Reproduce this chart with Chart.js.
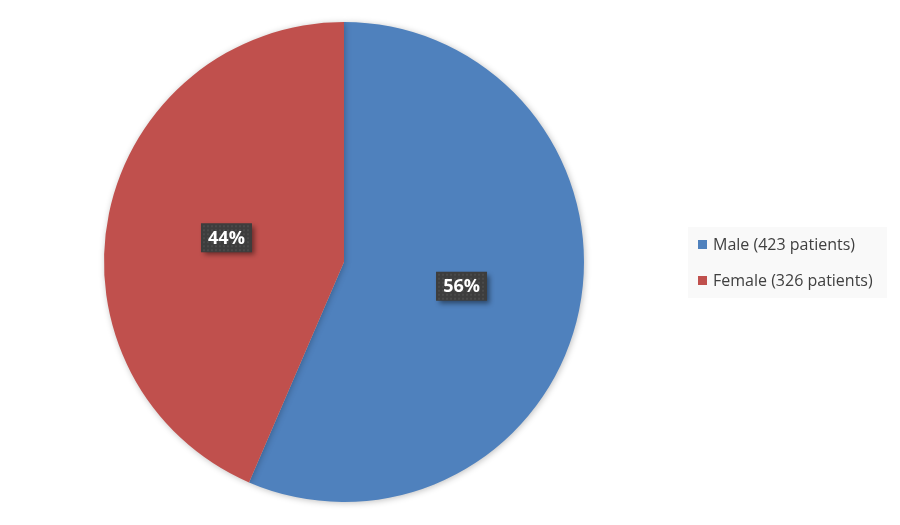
<!DOCTYPE html>
<html>
<head>
<meta charset="utf-8">
<script src="https://cdn.jsdelivr.net/npm/chart.js@4/dist/chart.umd.min.js"></script>
<style>
  body { margin: 0; background: #ffffff; }
  #wrap { width: 900px; height: 525px; }
</style>
</head>
<body>
<div id="wrap"><canvas id="genderChart" width="900" height="525"></canvas></div>
<script>
// Chart data
const labels = ['Male (423 patients)', 'Female (326 patients)'];
const patients = [423, 326];
const colors = ['#4F81BD', '#C0504D'];

// Soft shadow under the pie
const pieShadow = {
    id: 'pieShadow',
    beforeDatasetsDraw(chart) {
        const ctx = chart.ctx;
        ctx.save();
        ctx.shadowColor = 'rgba(0,0,0,0.25)';
        ctx.shadowBlur = 6;
        ctx.shadowOffsetX = 1;
        ctx.shadowOffsetY = 1;
    },
    afterDatasetsDraw(chart) {
        chart.ctx.restore();
    }
};

// Percent labels in dark boxes
const percentLabels = {
    id: 'percentLabels',
    afterDatasetsDraw(chart) {
        const ctx = chart.ctx;
        const meta = chart.getDatasetMeta(0);
        const total = patients.reduce((a, b) => a + b, 0);
        meta.data.forEach((arc, i) => {
            const mid = (arc.startAngle + arc.endAngle) / 2;
            const r = arc.outerRadius * 0.5;
            const x = arc.x + Math.cos(mid) * r;
            const y = arc.y + Math.sin(mid) * r;
            const text = Math.round(patients[i] / total * 100) + '%';
            const w = 51, h = 29;
            ctx.save();
            ctx.shadowColor = 'rgba(0,0,0,0.45)';
            ctx.shadowBlur = 5;
            ctx.shadowOffsetX = 3;
            ctx.shadowOffsetY = 3;
            ctx.fillStyle = '#3d3d3d';
            ctx.fillRect(x - w / 2, y - h / 2, w, h);
            ctx.restore();
            // faint dotted texture
            ctx.save();
            ctx.fillStyle = 'rgba(255,255,255,0.07)';
            for (let px = x - w / 2 + 2; px < x + w / 2 - 1; px += 4) {
                for (let py = y - h / 2 + 2; py < y + h / 2 - 1; py += 4) {
                    ctx.fillRect(px, py, 2, 2);
                }
            }
            ctx.fillStyle = '#ffffff';
            ctx.font = 'bold 18px "Open Sans", sans-serif';
            ctx.textAlign = 'center';
            ctx.textBaseline = 'middle';
            ctx.fillText(text, x, y + 1);
            ctx.restore();
        });
    }
};

// Legend with light grey box on the right
const boxLegend = {
    id: 'boxLegend',
    afterDraw(chart) {
        const ctx = chart.ctx;
        ctx.save();
        ctx.fillStyle = '#f9f9f9';
        ctx.fillRect(688, 227, 199, 71);
        ctx.font = '16px "Open Sans", sans-serif';
        ctx.textBaseline = 'middle';
        labels.forEach((lab, i) => {
            const y = 244 + i * 36;
            ctx.fillStyle = colors[i];
            ctx.fillRect(698, y - 4, 9, 9);
            ctx.fillStyle = '#404040';
            ctx.fillText(lab, 713, y + 1);
        });
        ctx.restore();
    }
};

new Chart(document.getElementById('genderChart'), {
    type: 'pie',
    data: {
        labels: labels,
        datasets: [{
            data: patients,
            backgroundColor: colors,
            borderWidth: 0
        }]
    },
    options: {
        responsive: false,
        animation: false,
        layout: {
            padding: { left: 104, right: 316, top: 22, bottom: 23 }
        },
        plugins: {
            legend: { display: false },
            tooltip: { enabled: false }
        }
    },
    plugins: [pieShadow, percentLabels, boxLegend]
});
</script>
</body>
</html>
